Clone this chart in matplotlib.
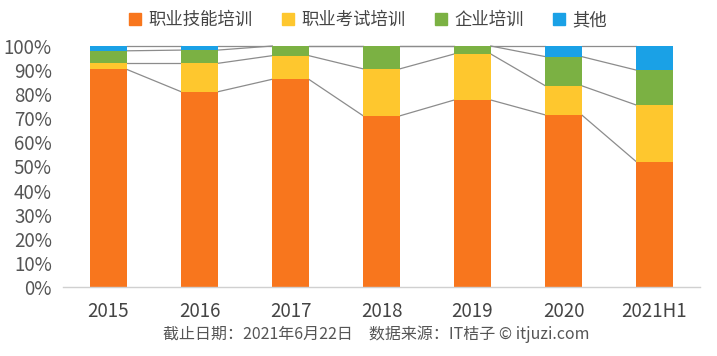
import matplotlib
matplotlib.use("Agg")
import matplotlib.pyplot as plt
from matplotlib.patches import Patch
import numpy as np

plt.rcParams["font.family"] = ["Noto Sans CJK SC", "DejaVu Sans"]

# data (percent share per year)
years = ["2015", "2016", "2017", "2018", "2019", "2020", "2021H1"]
skill = [90.3, 81.0, 86.2, 71.0, 77.6, 71.4, 52.0]
exam = [2.5, 11.8, 9.8, 19.5, 19.1, 12.1, 23.5]
corp = [5.2, 5.5, 4.0, 9.5, 3.3, 12.1, 14.5]
other = [2.0, 1.7, 0.0, 0.0, 0.0, 4.4, 10.0]

names = ["职业技能培训", "职业考试培训", "企业培训", "其他"]
colors = ["#F8761D", "#FEC72E", "#7BB143", "#1AA1E6"]
series = [skill, exam, corp, other]

fig = plt.figure(figsize=(7.17, 3.56), dpi=100)
ax = fig.add_axes([63 / 717, 69 / 356, 637 / 717, 241 / 356])

x = np.arange(len(years))
w = 0.4
bottom = np.zeros(len(years))
tops = []
for vals, col in zip(series, colors):
    v = np.array(vals) / 100
    ax.bar(x, v, w, bottom=bottom, color=col, zorder=2, clip_on=False)
    bottom = bottom + v
    tops.append(bottom.copy())

# series lines between neighbouring bars
for t in tops:
    for i in range(len(years) - 1):
        ax.plot([x[i] + w / 2, x[i + 1] - w / 2], [t[i], t[i + 1]],
                color="#8c8c8c", lw=0.9, zorder=1, clip_on=False)

ax.set_xlim(-0.5, len(years) - 0.5)
ax.set_ylim(0, 1)
ax.set_yticks(np.arange(0, 1.01, 0.1))
ax.set_yticklabels([f"{int(round(v * 100))}%" for v in np.arange(0, 1.01, 0.1)])
ax.set_xticks(x)
ax.set_xticklabels(years)
ax.tick_params(axis="y", length=0, pad=8, labelsize=13.5, labelcolor="#555555")
ax.tick_params(axis="x", length=0, pad=10, labelsize=13.5, labelcolor="#444444")
for s in ["top", "right", "left"]:
    ax.spines[s].set_visible(False)
ax.spines["bottom"].set_color("#d0d0d0")
ax.spines["bottom"].set_linewidth(1)

handles = [Patch(color=c, label=n) for n, c in zip(names, colors)]
fig.legend(handles=handles, loc="center", bbox_to_anchor=(368 / 717, 1 - 20 / 356),
           ncol=4, frameon=False, handlelength=0.7, handleheight=0.7,
           handletextpad=0.4, columnspacing=1.7, labelcolor="#444444",
           prop={"size": 12.5})

fig.text(376 / 717, 1 - 334 / 356, "截止日期：2021年6月22日　数据来源：IT桔子 © itjuzi.com",
         ha="center", va="center", fontsize=11.5, color="#555555")

fig.savefig("out.png", dpi=100)
